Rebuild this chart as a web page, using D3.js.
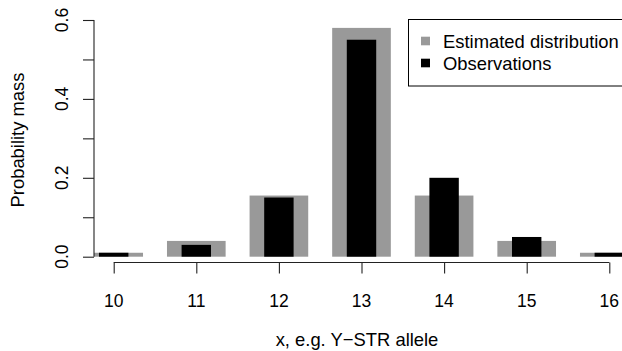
<!DOCTYPE html>
<html>
<head>
<meta charset="utf-8">
<script src="https://cdn.jsdelivr.net/npm/d3@7"></script>
<style>
  html, body { margin: 0; padding: 0; background: #fff; }
  svg { display: block; }
  text { font-family: "Liberation Sans", Arial, Helvetica, sans-serif; fill: #000; }
</style>
</head>
<body>
<svg id="chart" width="622" height="351"></svg>
<script>
// Allele values and probability masses
const alleles = [10, 11, 12, 13, 14, 15, 16];
const estimated = [0.01, 0.04, 0.155, 0.58, 0.155, 0.04, 0.01];
const observed = [0.01, 0.03, 0.15, 0.55, 0.20, 0.05, 0.01];
const yTicks = [0, 0.1, 0.2, 0.3, 0.4, 0.5, 0.6];
const yTickLabels = ["0.0", "", "0.2", "", "0.4", "", "0.6"];
const legendLabels = ["Estimated distribution", "Observations"];
const xTitle = "x, e.g. Y\u2212STR allele";
const yTitle = "Probability mass";

const svg = d3.select("#chart");

const x = d3.scaleLinear().domain([10, 16]).range([113.7, 609.3]);
const y = d3.scaleLinear().domain([0, 0.6]).range([256.7, 20]);

// plotting region (bars are clipped to it)
const plotLeft = 94, plotRight = 629, plotTop = 10, plotBottom = 266;
svg.append("clipPath").attr("id", "plotclip")
  .append("rect")
  .attr("x", plotLeft).attr("y", plotTop)
  .attr("width", plotRight - plotLeft).attr("height", plotBottom - plotTop);

const unit = x(11) - x(10);
const wideHalf = 0.355 * unit;
const narrowHalf = 0.178 * unit;

const bars = svg.append("g").attr("clip-path", "url(#plotclip)");

bars.selectAll("rect.est").data(alleles).join("rect")
  .attr("class", "est")
  .attr("x", (d) => x(d) - wideHalf)
  .attr("width", 2 * wideHalf)
  .attr("y", (d, i) => y(estimated[i]))
  .attr("height", (d, i) => y(0) - y(estimated[i]))
  .attr("fill", "#999999");

bars.selectAll("rect.obs").data(alleles).join("rect")
  .attr("class", "obs")
  .attr("x", (d) => x(d) - narrowHalf)
  .attr("width", 2 * narrowHalf)
  .attr("y", (d, i) => y(observed[i]))
  .attr("height", (d, i) => y(0) - y(observed[i]))
  .attr("fill", "#000000");

// y axis (left), labels parallel to the axis
const yAxis = svg.append("g").attr("transform", `translate(${plotLeft},0)`)
  .call(d3.axisLeft(y).tickValues(yTicks).tickSize(11).tickFormat(""));
yAxis.select(".domain").attr("d", `M0,${y(0)}V${y(0.6)}`);
yAxis.selectAll("line, path").attr("stroke", "#222").attr("stroke-width", 1.1);

yTicks.forEach((t, i) => {
  if (!yTickLabels[i]) return;
  svg.append("text")
    .attr("transform", `translate(68,${y(t)}) rotate(-90)`)
    .attr("text-anchor", "middle")
    .attr("font-size", 17.5)
    .text(yTickLabels[i]);
});

// x axis (bottom)
const xAxisY = 262.5;
const xAxis = svg.append("g").attr("transform", `translate(0,${xAxisY})`)
  .call(d3.axisBottom(x).tickValues(alleles).tickSize(11).tickFormat(""));
xAxis.select(".domain").attr("d", `M${x(10)},0H${x(16)}`);
xAxis.selectAll("line, path").attr("stroke", "#222").attr("stroke-width", 1.1);

svg.selectAll("text.xtick").data(alleles).join("text")
  .attr("class", "xtick")
  .attr("x", (d) => x(d))
  .attr("y", 307)
  .attr("text-anchor", "middle")
  .attr("font-size", 17.5)
  .text((d) => d);

// axis titles
svg.append("text")
  .attr("x", 357).attr("y", 346)
  .attr("text-anchor", "middle")
  .attr("font-size", 18.4)
  .text(xTitle);

svg.append("text")
  .attr("transform", "translate(24,140) rotate(-90)")
  .attr("text-anchor", "middle")
  .attr("font-size", 18.4)
  .text(yTitle);

// legend
const legend = svg.append("g");
legend.append("rect")
  .attr("x", 408.5).attr("y", 19.5)
  .attr("width", 240).attr("height", 66.5)
  .attr("fill", "#fff").attr("stroke", "#000").attr("stroke-width", 1);

const legendColors = ["#999999", "#000000"];
legendLabels.forEach((lab, i) => {
  const cy = 41 + i * 22;
  legend.append("rect")
    .attr("x", 421).attr("y", cy - 4.3)
    .attr("width", 9).attr("height", 8.6)
    .attr("fill", legendColors[i]);
  legend.append("text")
    .attr("x", 443).attr("y", cy + 6.5)
    .attr("font-size", 18.4)
    .text(lab);
});
</script>
</body>
</html>
